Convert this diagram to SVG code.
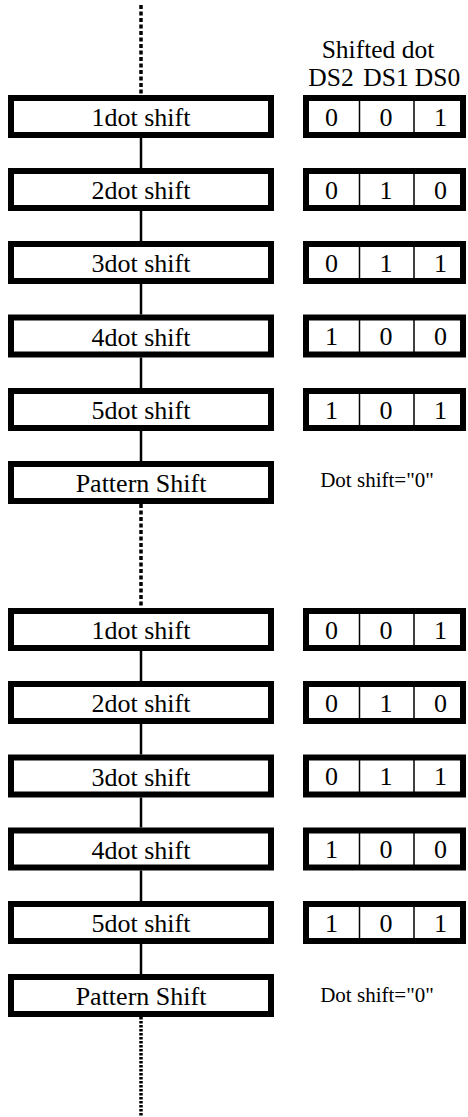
<svg xmlns="http://www.w3.org/2000/svg" width="468" height="1117" viewBox="0 0 468 1117" font-family="'Liberation Serif', 'Times New Roman', 'DejaVu Serif', serif">
<defs>
<style>
text{font-family:'Liberation Serif','Times New Roman','DejaVu Serif',serif;fill:#000;text-anchor:middle}
.box{fill:#fff;stroke:#000;stroke-width:6}
.lbl{font-size:26px}
.hdr{font-size:25.5px}
.note{font-size:21px}
.div{stroke:#000;stroke-width:1.5}
.con{stroke:#000;stroke-width:2.5;fill:none}
.dot{stroke:#000;stroke-width:3.5;fill:none;stroke-dasharray:4 2.5}
.dot2{stroke:#000;stroke-width:3.5;fill:none;stroke-dasharray:2.5 1.5}
</style>
</defs>

<g id="connectors">
<line class="dot" x1="141" y1="5" x2="141" y2="95"/>
<line class="con" x1="141" y1="138" x2="141" y2="168"/>
<line class="con" x1="141" y1="211" x2="141" y2="241"/>
<line class="con" x1="141" y1="284" x2="141" y2="314.5"/>
<line class="con" x1="141" y1="357.5" x2="141" y2="388"/>
<line class="con" x1="141" y1="431" x2="141" y2="461"/>
<line class="dot" x1="141" y1="504" x2="141" y2="608"/>
<line class="con" x1="141" y1="651" x2="141" y2="681"/>
<line class="con" x1="141" y1="724" x2="141" y2="754.5"/>
<line class="con" x1="141" y1="797.5" x2="141" y2="827.5"/>
<line class="con" x1="141" y1="870.5" x2="141" y2="901"/>
<line class="con" x1="141" y1="944" x2="141" y2="974"/>
<line class="dot2" x1="141" y1="1017" x2="141" y2="1117"/>
</g>

<g id="header">
<text class="hdr" x="378" y="58">Shifted dot</text>
<text class="hdr" x="331" y="86">DS2</text>
<text class="hdr" x="386" y="86">DS1</text>
<text class="hdr" x="437.5" y="86">DS0</text>
</g>

<g id="shift1a"><rect class="box" x="11" y="98" width="260" height="37"/><text class="lbl" x="141" y="126">1dot shift</text></g>
<g id="table1a"><rect class="box" x="306" y="98" width="157" height="37"/><line class="div" x1="359.5" y1="98" x2="359.5" y2="135"/><line class="div" x1="414" y1="98" x2="414" y2="135"/><text class="lbl" x="331.5" y="125.5">0</text><text class="lbl" x="386" y="125.5">0</text><text class="lbl" x="440.5" y="125.5">1</text></g>

<g id="shift2a"><rect class="box" x="11" y="171" width="260" height="37"/><text class="lbl" x="141" y="199">2dot shift</text></g>
<g id="table2a"><rect class="box" x="306" y="171" width="157" height="37"/><line class="div" x1="359.5" y1="171" x2="359.5" y2="208"/><line class="div" x1="414" y1="171" x2="414" y2="208"/><text class="lbl" x="331.5" y="198.5">0</text><text class="lbl" x="386" y="198.5">1</text><text class="lbl" x="440.5" y="198.5">0</text></g>

<g id="shift3a"><rect class="box" x="11" y="244" width="260" height="37"/><text class="lbl" x="141" y="272">3dot shift</text></g>
<g id="table3a"><rect class="box" x="306" y="244" width="157" height="37"/><line class="div" x1="359.5" y1="244" x2="359.5" y2="281"/><line class="div" x1="414" y1="244" x2="414" y2="281"/><text class="lbl" x="331.5" y="271.5">0</text><text class="lbl" x="386" y="271.5">1</text><text class="lbl" x="440.5" y="271.5">1</text></g>

<g id="shift4a"><rect class="box" x="11" y="317.5" width="260" height="37"/><text class="lbl" x="141" y="345.5">4dot shift</text></g>
<g id="table4a"><rect class="box" x="306" y="317.5" width="157" height="37"/><line class="div" x1="359.5" y1="317.5" x2="359.5" y2="354.5"/><line class="div" x1="414" y1="317.5" x2="414" y2="354.5"/><text class="lbl" x="331.5" y="345">1</text><text class="lbl" x="386" y="345">0</text><text class="lbl" x="440.5" y="345">0</text></g>

<g id="shift5a"><rect class="box" x="11" y="391" width="260" height="37"/><text class="lbl" x="141" y="419">5dot shift</text></g>
<g id="table5a"><rect class="box" x="306" y="391" width="157" height="37"/><line class="div" x1="359.5" y1="391" x2="359.5" y2="428"/><line class="div" x1="414" y1="391" x2="414" y2="428"/><text class="lbl" x="331.5" y="418.5">1</text><text class="lbl" x="386" y="418.5">0</text><text class="lbl" x="440.5" y="418.5">1</text></g>

<g id="patterna"><rect class="box" x="11" y="464" width="260" height="37"/><text class="lbl" x="141" y="492">Pattern Shift</text></g>
<g id="note-a"><text class="note" x="377" y="487">Dot shift="0"</text></g>

<g id="shift1b"><rect class="box" x="11" y="611" width="260" height="37"/><text class="lbl" x="141" y="639">1dot shift</text></g>
<g id="table1b"><rect class="box" x="306" y="611" width="157" height="37"/><line class="div" x1="359.5" y1="611" x2="359.5" y2="648"/><line class="div" x1="414" y1="611" x2="414" y2="648"/><text class="lbl" x="331.5" y="638.5">0</text><text class="lbl" x="386" y="638.5">0</text><text class="lbl" x="440.5" y="638.5">1</text></g>

<g id="shift2b"><rect class="box" x="11" y="684" width="260" height="37"/><text class="lbl" x="141" y="712">2dot shift</text></g>
<g id="table2b"><rect class="box" x="306" y="684" width="157" height="37"/><line class="div" x1="359.5" y1="684" x2="359.5" y2="721"/><line class="div" x1="414" y1="684" x2="414" y2="721"/><text class="lbl" x="331.5" y="711.5">0</text><text class="lbl" x="386" y="711.5">1</text><text class="lbl" x="440.5" y="711.5">0</text></g>

<g id="shift3b"><rect class="box" x="11" y="757.5" width="260" height="37"/><text class="lbl" x="141" y="785.5">3dot shift</text></g>
<g id="table3b"><rect class="box" x="306" y="757.5" width="157" height="37"/><line class="div" x1="359.5" y1="757.5" x2="359.5" y2="794.5"/><line class="div" x1="414" y1="757.5" x2="414" y2="794.5"/><text class="lbl" x="331.5" y="785">0</text><text class="lbl" x="386" y="785">1</text><text class="lbl" x="440.5" y="785">1</text></g>

<g id="shift4b"><rect class="box" x="11" y="830.5" width="260" height="37"/><text class="lbl" x="141" y="858.5">4dot shift</text></g>
<g id="table4b"><rect class="box" x="306" y="830.5" width="157" height="37"/><line class="div" x1="359.5" y1="830.5" x2="359.5" y2="867.5"/><line class="div" x1="414" y1="830.5" x2="414" y2="867.5"/><text class="lbl" x="331.5" y="858">1</text><text class="lbl" x="386" y="858">0</text><text class="lbl" x="440.5" y="858">0</text></g>

<g id="shift5b"><rect class="box" x="11" y="904" width="260" height="37"/><text class="lbl" x="141" y="932">5dot shift</text></g>
<g id="table5b"><rect class="box" x="306" y="904" width="157" height="37"/><line class="div" x1="359.5" y1="904" x2="359.5" y2="941"/><line class="div" x1="414" y1="904" x2="414" y2="941"/><text class="lbl" x="331.5" y="931.5">1</text><text class="lbl" x="386" y="931.5">0</text><text class="lbl" x="440.5" y="931.5">1</text></g>

<g id="patternb"><rect class="box" x="11" y="977" width="260" height="37"/><text class="lbl" x="141" y="1005">Pattern Shift</text></g>
<g id="note-b"><text class="note" x="377" y="1002">Dot shift="0"</text></g>
</svg>
